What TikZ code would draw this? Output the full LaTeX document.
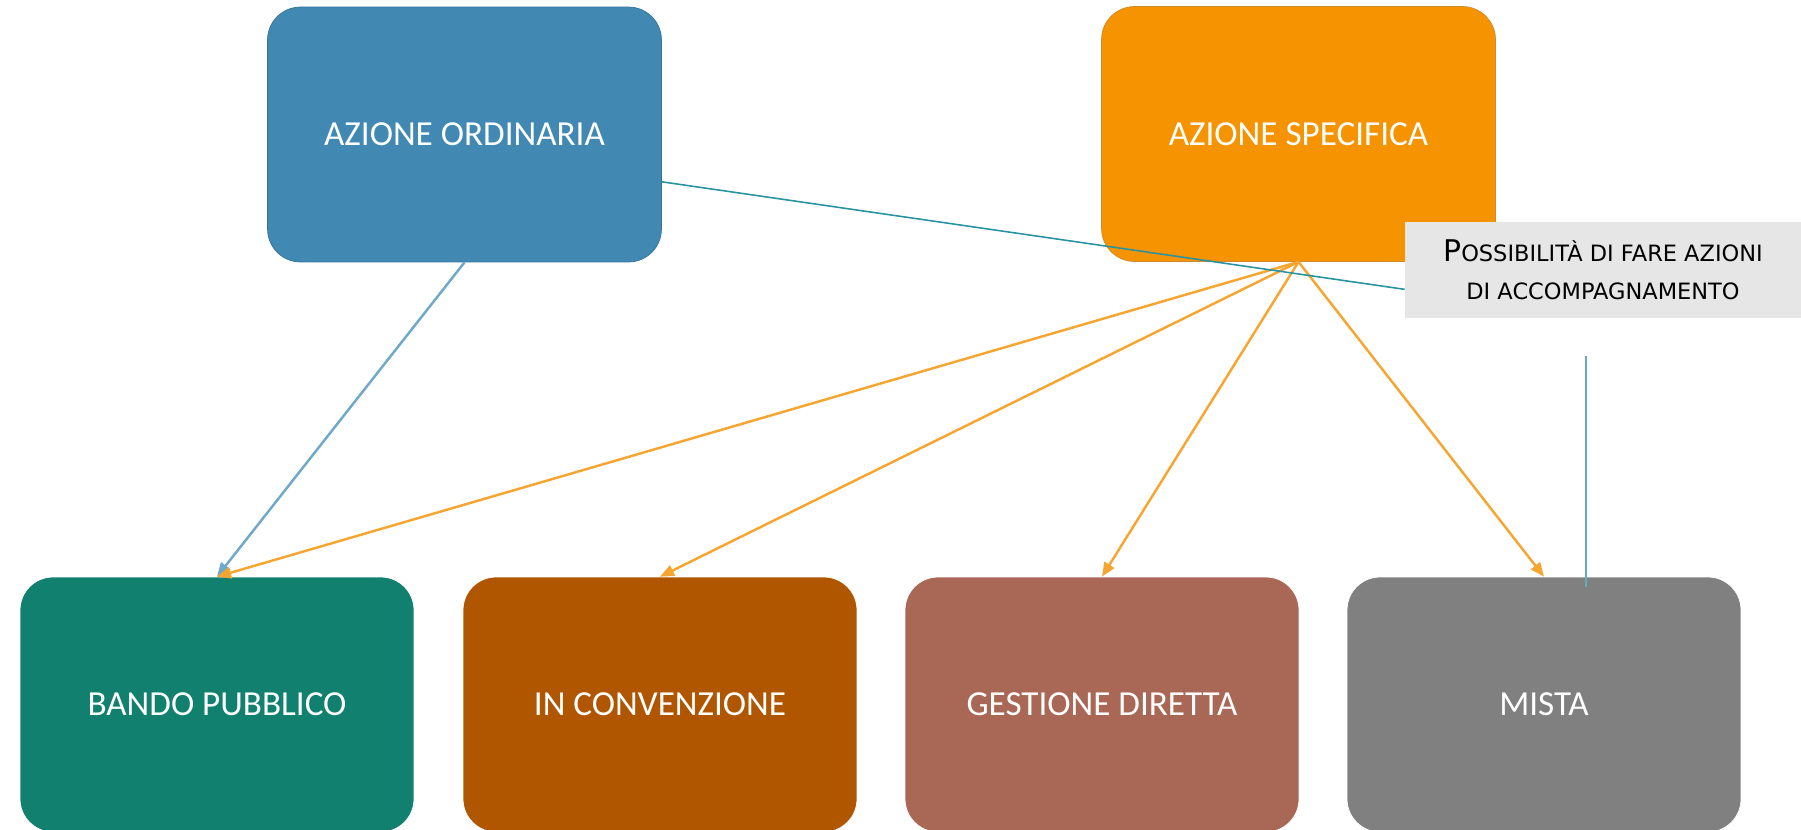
\documentclass[tikz,border=0pt]{standalone}
\usepackage{fontspec}
\setmainfont{Carlito}
\newfontfamily\notefont{DejaVu Sans}
\usepackage{xcolor}
\usetikzlibrary{positioning,calc,arrows.meta}

\definecolor{ordblue}{HTML}{4189B3}
\definecolor{ordedge}{HTML}{33739B}
\definecolor{specorange}{HTML}{F59300}
\definecolor{specedge}{HTML}{D08A2C}
\definecolor{bandogreen}{HTML}{12806F}
\definecolor{convbrown}{HTML}{B05500}
\definecolor{gestbrown}{HTML}{A96755}
\definecolor{mistagray}{HTML}{808080}
\definecolor{arrowblue}{HTML}{6FA8C9}
\definecolor{arroworange}{HTML}{F6A630}
\definecolor{linkteal}{HTML}{2A93A1}
\definecolor{notegray}{HTML}{E6E6E6}

\begin{document}
\begin{tikzpicture}[x=0.02cm, y=-0.02cm,
    actionbox/.style={rounded corners=0.66cm, minimum width=7.88cm, minimum height=5.1cm,
        text=white, font=\fontsize{20}{24}\selectfont, inner sep=0pt},
    flow/.style={line width=1.4pt, -{Triangle[length=8pt, width=6.5pt]}}]
    \useasboundingbox (0,0) rectangle (1801,829);

    % Upper boxes
    \node[actionbox, fill=ordblue, draw=ordedge] (ord) at (464.5,134.5) {AZIONE ORDINARIA};
    \node[actionbox, fill=specorange, draw=specedge] (spec) at (1298.5,134) {AZIONE SPECIFICA};

    % Lower boxes
    \node[actionbox, fill=bandogreen, draw=white] (bando) at (217,704.5) {BANDO PUBBLICO};
    \node[actionbox, fill=convbrown, draw=white] (conv) at (660,704.5) {IN CONVENZIONE};
    \node[actionbox, fill=gestbrown, draw=white] (gest) at (1102,704.5) {GESTIONE DIRETTA};
    \node[actionbox, fill=mistagray, draw=white] (mista) at (1544,704.5) {MISTA};

    % Arrows
    \draw[flow, arrowblue] (ord.south) -- (bando.north);
    \draw[flow, arroworange] (spec.south) -- (bando.north);
    \draw[flow, arroworange] (spec.south) -- (conv.north);
    \draw[flow, arroworange] (spec.south) -- (gest.north);
    \draw[flow, arroworange] (spec.south) -- (mista.north);

    % Note
    \node[fill=notegray, minimum width=7.92cm, minimum height=1.92cm, inner sep=0pt,
        align=center, font=\notefont\fontsize{12.8}{21.6}\selectfont] (note) at (1603,270)
        {{\fontsize{17}{21.6}\selectfont P}OSSIBILITÀ DI FARE AZIONI\\DI ACCOMPAGNAMENTO};

    % Link lines
    \draw[linkteal, line width=0.9pt] ($(ord.east)!0.37!(ord.south east)$) -- ($(note.west)!0.4!(note.south west)$);
    \coordinate (tickTop) at (1586,356);
    \coordinate (tickBot) at (1586,587);
    \draw[linkteal!75, line width=1.1pt] (tickTop) -- (tickBot);
\end{tikzpicture}
\end{document}
